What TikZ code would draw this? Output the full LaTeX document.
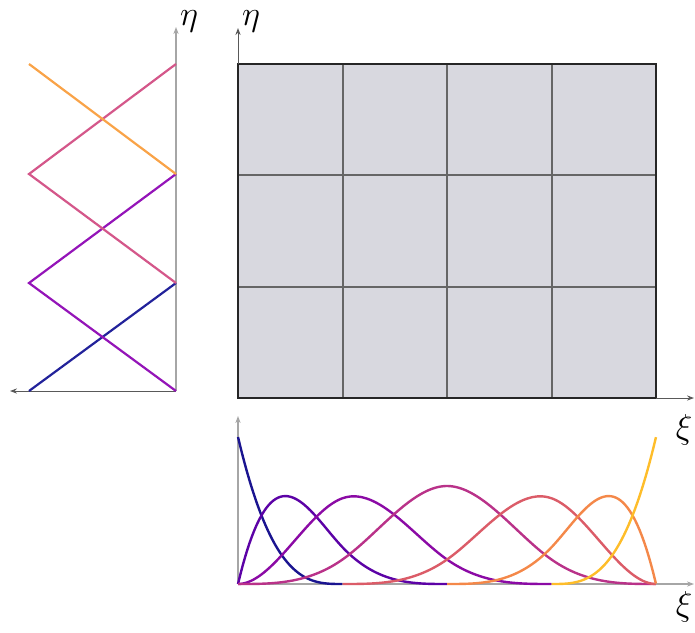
\documentclass[tikz,border=0pt]{standalone}
\usetikzlibrary{arrows.meta}
\definecolor{pA}{HTML}{1A1490}
\definecolor{pB}{HTML}{5C02A6}
\definecolor{pC}{HTML}{8B0AA5}
\definecolor{pD}{HTML}{B93289}
\definecolor{pE}{HTML}{DB5C68}
\definecolor{pF}{HTML}{F48849}
\definecolor{pG}{HTML}{FEBD2A}
\definecolor{lA}{HTML}{22229A}
\definecolor{lB}{HTML}{9414B8}
\definecolor{lC}{HTML}{D4578A}
\definecolor{lD}{HTML}{F9A348}
\definecolor{cellfill}{HTML}{D8D8DF}
\tikzset{
  curve/.style={line width=1.2pt},
  hat/.style={line width=1.1pt},
  lightaxis/.style={draw=black!35,line width=1.2pt},
  thinaxis/.style={draw=black!65,line width=0.5pt},
  tip/.style={-{Stealth[length=3.5pt,width=2.6pt]}},
  lbl/.style={inner sep=0pt,font=\fontsize{16.5}{18}\selectfont},
  declare function={
    cu(\t)=\t*\t*\t;
    NZ(\t)=cu(1-\t);
    NO(\t)=(\t<1) ? (3*\t-4.5*\t*\t+1.75*cu(\t)) : (cu(2-\t)/4);
    NT(\t)=(\t<1) ? (1.5*\t*\t-11/12*cu(\t)) : ((\t<2) ? (-1.5+4.5*\t-3*\t*\t+7/12*cu(\t)) : (cu(3-\t)/6));
    NM(\t)=(\t<1) ? (cu(\t)/6) : ((\t<2) ? ((-3*cu(\t)+12*\t*\t-12*\t+4)/6) : ((\t<3) ? ((3*cu(\t)-24*\t*\t+60*\t-44)/6) : (cu(4-\t)/6)));
  }
}
\begin{document}
\begin{tikzpicture}[x=0.5pt,y=-0.5pt]
\useasboundingbox (0,0) rectangle (695,632);

% ---------- main grid ----------
\coordinate (o) at (238,398);
\coordinate (tr) at (656,64);
\fill[cellfill] (o) rectangle (tr);
\foreach \xx in {343,447,552} \draw[black!60,line width=0.6pt] (\xx,64) -- (\xx,398);
\foreach \yy in {175,287} \draw[black!60,line width=0.6pt] (238,\yy) -- (656,\yy);
\draw[black!85,line width=1.1pt] (o) rectangle (tr);
\coordinate (etatip) at (238,28);
\coordinate (xitip) at (694,398);
\draw[thinaxis,tip] (238,64) -- (etatip);
\draw[thinaxis,tip] (656,398) -- (xitip);
\node[lbl] (etaM) at (251,21) {$\eta$};
\node[lbl] (xiM) at (684,430) {$\xi$};

% ---------- left plot (eta basis) ----------
\coordinate (lo) at (176,391);
\coordinate (ltop) at (176,27);
\coordinate (lleft) at (10,391);
\draw[lightaxis,tip] (lo) -- (ltop);
\draw[thinaxis,tip] (lo) -- (lleft);
\coordinate (r0) at (176,391);
\coordinate (r1) at (176,283);
\coordinate (r2) at (176,174);
\coordinate (r3) at (176,64);
\coordinate (q0) at (29,391);
\coordinate (q1) at (29,283);
\coordinate (q2) at (29,174);
\coordinate (q3) at (29,64);
\draw[hat,lA] (q0) -- (r1);
\draw[hat,lB] (r0) -- (q1) -- (r2);
\draw[hat,lC] (r1) -- (q2) -- (r3);
\draw[hat,lD] (q3) -- (r2);
\node[lbl] (etaL) at (189,21) {$\eta$};

% ---------- bottom plot (xi basis) ----------
\coordinate (bo) at (238,584);
\coordinate (bup) at (238,416);
\coordinate (bright) at (694,584);
\draw[lightaxis,line width=1pt,tip] (bo) -- (bup);
\draw[lightaxis,line width=1pt,tip] (bo) -- (bright);
\node[lbl] (xiB) at (684,607) {$\xi$};
\begin{scope}[shift={(238,584)},x=52.25pt,y=73.5pt]
  \draw[curve,pA] plot[domain=0:1,samples=50] (\x,{NZ(\x)});
  \draw[curve,pB] plot[domain=0:2,samples=90] (\x,{NO(\x)});
  \draw[curve,pC] plot[domain=0:3,samples=120] (\x,{NT(\x)});
  \draw[curve,pD] plot[domain=0:4,samples=160] (\x,{NM(\x)});
  \draw[curve,pE] plot[domain=1:4,samples=120] (\x,{NT(4-\x)});
  \draw[curve,pF] plot[domain=2:4,samples=90] (\x,{NO(4-\x)});
  \draw[curve,pG] plot[domain=3:4,samples=50] (\x,{NZ(4-\x)});
\end{scope}
\end{tikzpicture}
\end{document}
